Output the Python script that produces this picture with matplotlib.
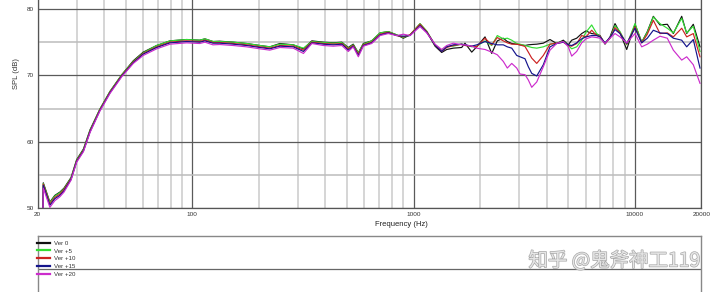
import numpy as np
import matplotlib
matplotlib.use('Agg')
import matplotlib.pyplot as plt
import matplotlib.patheffects as pe
from matplotlib.ticker import NullFormatter

plt.rcParams['font.family'] = ['Liberation Sans', 'DejaVu Sans']

# %% data

freq = [21.0, 21.2, 22.7, 23.9, 25.2, 26.3, 28.3, 30.0, 32.2, 34.5, 38.2, 42.5,
        48.0, 54.1, 60.0, 69.0, 79.3, 94.3, 108, 114, 124, 133, 153, 176, 202,
        224, 249, 286, 318, 347, 391, 434, 474, 507, 534, 563, 593, 647, 706,
        769, 840, 900, 964,
        1070, 1147, 1251, 1341, 1413, 1513, 1651, 1709, 1833, 1931, 2105, 2257,
        2392, 2546, 2655, 2780, 2928, 3030, 3192, 3304, 3423, 3606, 3862, 4140,
        4439, 4756, 5010, 5190, 5467, 5759, 6022, 6390, 6731, 6968, 7340, 7733,
        8146, 8582, 9201, 10032, 10755, 11402, 12140, 13010, 14040, 14950,
        16310, 17180, 18400, 19730]

ver_0 = [40.0, 53.8, 50.9, 51.9, 52.4, 53.0, 54.6, 57.3, 58.9, 61.8, 64.9, 67.6,
         70.1, 72.2, 73.5, 74.5, 75.2, 75.4, 75.3, 75.5, 75.1, 75.15, 75.0, 74.8,
         74.5, 74.3, 74.8, 74.6, 74.0, 75.2, 75.0, 74.9, 75.0, 74.2, 74.7, 73.4,
         74.8, 75.2, 76.4, 76.6, 76.1, 75.6, 76.1,
         77.75, 76.6, 74.4, 73.45, 73.9, 74.1, 74.2, 74.85, 73.5, 74.3, 75.8,
         73.3, 75.2, 75.6, 75.1, 74.8, 74.7, 74.6, 74.5, 74.6, 74.65, 74.7,
         74.85, 75.4, 74.8, 75.3, 74.6, 75.3, 75.6, 76.3, 76.7, 76.3, 76.2, 76.0,
         74.7, 75.8, 77.8, 76.4, 73.9, 77.7, 75.0, 76.6, 78.9, 77.6, 77.7, 76.3,
         78.9, 76.3, 77.7, 74.3]

ver_5 = [40.0, 53.7, 50.8, 51.8, 52.3, 52.9, 54.5, 57.2, 58.8, 61.7, 64.9, 67.6,
         70.1, 72.1, 73.4, 74.5, 75.2, 75.4, 75.3, 75.5, 75.1, 75.1, 75.0, 74.8,
         74.5, 74.3, 74.7, 74.6, 74.1, 75.1, 74.95, 74.85, 74.95, 74.1, 74.6,
         73.4, 74.7, 75.2, 76.4, 76.6, 76.1, 75.7, 76.1,
         77.8, 76.7, 74.6, 73.8, 74.4, 74.4, 74.7, 74.6, 74.3, 74.4, 75.2, 74.5,
         76.0, 75.5, 75.6, 75.3, 74.8, 74.7, 74.5, 74.35, 74.2, 74.1, 74.3, 74.7,
         74.85, 75.1, 74.5, 74.0, 74.3, 75.3, 76.5, 77.6, 76.3, 75.9, 74.8, 75.6,
         77.5, 76.6, 74.6, 77.8, 75.0, 76.5, 78.8, 77.8, 77.1, 76.4, 78.6, 76.4,
         77.4, 73.6]

ver_10 = [40.0, 53.6, 50.6, 51.6, 52.1, 52.8, 54.4, 57.1, 58.7, 61.6, 64.8, 67.5,
          70.0, 72.0, 73.3, 74.3, 75.0, 75.2, 75.1, 75.3, 74.95, 74.95, 74.8,
          74.6, 74.3, 74.1, 74.5, 74.4, 73.8, 75.0, 74.8, 74.7, 74.8, 74.0, 74.5,
          73.2, 74.6, 75.0, 76.2, 76.5, 76.0, 75.8, 76.1,
          77.7, 76.6, 74.6, 73.6, 74.2, 74.5, 74.7, 74.5, 74.4, 74.3, 75.6, 74.6,
          75.7, 75.2, 74.9, 74.7, 74.7, 74.6, 74.35, 73.5, 72.6, 71.8, 73.0,
          74.7, 74.85, 75.0, 74.5, 74.4, 74.8, 76.0, 75.8, 76.8, 76.0, 75.9, 74.8,
          75.6, 77.2, 76.4, 74.7, 77.3, 74.9, 76.2, 78.3, 76.3, 76.4, 75.8, 77.1,
          75.8, 76.3, 72.8]

ver_15 = [40.0, 53.4, 50.4, 51.4, 51.9, 52.6, 54.3, 57.0, 58.6, 61.5, 64.7, 67.4,
          69.9, 71.9, 73.2, 74.2, 74.9, 75.1, 75.0, 75.2, 74.85, 74.85, 74.7,
          74.5, 74.2, 74.0, 74.4, 74.3, 73.6, 74.9, 74.7, 74.6, 74.7, 73.8, 74.4,
          73.0, 74.5, 74.9, 76.1, 76.4, 76.0, 75.9, 76.0,
          77.5, 76.5, 74.6, 73.6, 74.3, 74.6, 74.7, 74.6, 74.4, 74.6, 75.1, 74.8,
          74.6, 74.6, 74.3, 74.1, 73.0, 72.8, 72.5, 71.3, 70.3, 69.9, 71.6, 74.3,
          74.8, 75.0, 74.6, 74.5, 74.9, 75.5, 75.8, 76.0, 76.0, 75.8, 74.9, 75.7,
          76.9, 76.3, 74.8, 77.1, 74.9, 75.6, 76.8, 76.4, 76.3, 75.6, 75.3, 74.3,
          75.4, 71.1]

ver_20 = [40.0, 53.0, 50.1, 51.1, 51.7, 52.4, 54.2, 56.9, 58.5, 61.4, 64.6, 67.3,
          69.8, 71.8, 73.0, 74.0, 74.7, 74.9, 74.8, 75.0, 74.6, 74.65, 74.5,
          74.3, 74.0, 73.8, 74.2, 74.1, 73.3, 74.8, 74.5, 74.4, 74.5, 73.6, 74.3,
          72.8, 74.4, 74.8, 76.0, 76.3, 76.0, 76.2, 76.0,
          77.35, 76.4, 74.7, 73.9, 74.5, 74.85, 74.6, 74.6, 74.4, 74.1, 73.9,
          73.5, 73.1, 72.1, 71.1, 71.8, 71.1, 70.2, 70.1, 69.3, 68.2, 69.0, 71.3,
          73.8, 74.8, 75.1, 74.3, 72.9, 73.6, 74.9, 75.5, 75.8, 75.7, 75.6, 74.8,
          75.6, 76.3, 75.8, 74.9, 76.3, 74.3, 74.7, 75.3, 75.9, 75.6, 73.8, 72.3,
          72.8, 71.6, 68.8]

labels = ['Ver 0', 'Ver +5', 'Ver +10', 'Ver +15', 'Ver +20']
colors = ['#111111', '#33dd33', '#cc2222', '#14148c', '#cc2ccc']

x_major = [20, 100, 1000, 10000, 20000]
x_major_labels = ['20', '100', '1000', '10000', '20000']
x_minor = [30, 40, 50, 60, 70, 80, 90, 200, 300, 400, 500, 600, 700, 800, 900,
           2000, 3000, 4000, 5000, 6000, 7000, 8000, 9000]
y_major = [50, 60, 70, 80]
y_minor = [55, 65, 75]

# %% figure

W, H = 720, 292
fig = plt.figure(figsize=(W / 100, H / 100), dpi=100)

left, right = 37.7 / W, 701.3 / W
ax = fig.add_axes([left, 1 - 208 / H, right - left, 208 / H])
ax.set_xscale('log')
ax.set_xlim(20, 20000)
ax.set_ylim(50, 81.36)

ax.set_xticks(x_major, labels=x_major_labels)
ax.set_xticks(x_minor, minor=True)
ax.xaxis.set_minor_formatter(NullFormatter())
ax.set_yticks(y_major)
ax.set_yticks(y_minor, minor=True)
ax.tick_params(which='both', length=0, labelsize=4.6, colors='#333333', pad=3)

ax.grid(which='minor', axis='x', color='#d2d2d2', linewidth=1.3)
ax.grid(which='minor', axis='y', color='#bcbcbc', linewidth=1.1)
ax.grid(which='major', axis='both', color='#5a5a5a', linewidth=0.9)
ax.set_axisbelow(True)

ax.spines['top'].set_visible(False)
for s in ['left', 'right', 'bottom']:
    ax.spines[s].set_color('#555555')
    ax.spines[s].set_linewidth(0.9)

series = [ver_0, ver_5, ver_10, ver_15, ver_20]
for vals, lab, col in zip(series, labels, colors):
    ax.plot(freq, vals, color=col, linewidth=0.85, label=lab)

fig.text(16 / W, 1 - 74 / H, 'SPL (dB)', rotation=90, fontsize=5.5,
         color='#333333', ha='center', va='center')
fig.text(401.7 / W, 1 - 225 / H, 'Frequency (Hz)', fontsize=5.5,
         color='#222222', ha='center', va='center')

# legend panel below the chart
box_top, box_bot = 235.7, 310
ax2 = fig.add_axes([left, 1 - box_bot / H, right - left, (box_bot - box_top) / H])
ax2.set_xlim(0, 1)
ax2.set_ylim(box_bot, box_top)
ax2.set_xticks([])
ax2.set_yticks([])
for s in ax2.spines.values():
    s.set_color('#888888')
    s.set_linewidth(1.0)
ax2.axhline(269, color='#666666', linewidth=0.9)

handles, _ = ax.get_legend_handles_labels()
leg = fig.legend(handles, labels, loc='upper left',
                 bbox_to_anchor=(37.0 / W, 1 - 240.5 / H), frameon=False,
                 fontsize=4.4, handlelength=2.2, handletextpad=0.5,
                 labelspacing=0.42, borderpad=0, borderaxespad=0)
for line in leg.get_lines():
    line.set_linewidth(1.6)
for t in leg.get_texts():
    t.set_color('#333333')

fig.text(701 / W, 1 - 261 / H, '知乎 @鬼斧神工119', fontsize=14,
         family=['Noto Sans CJK SC', 'DejaVu Sans'], color='#e6e6e6',
         ha='right', va='center',
         path_effects=[pe.withStroke(linewidth=1.0, foreground='#a8a8a8')])

fig.savefig('out.png', dpi=100)
